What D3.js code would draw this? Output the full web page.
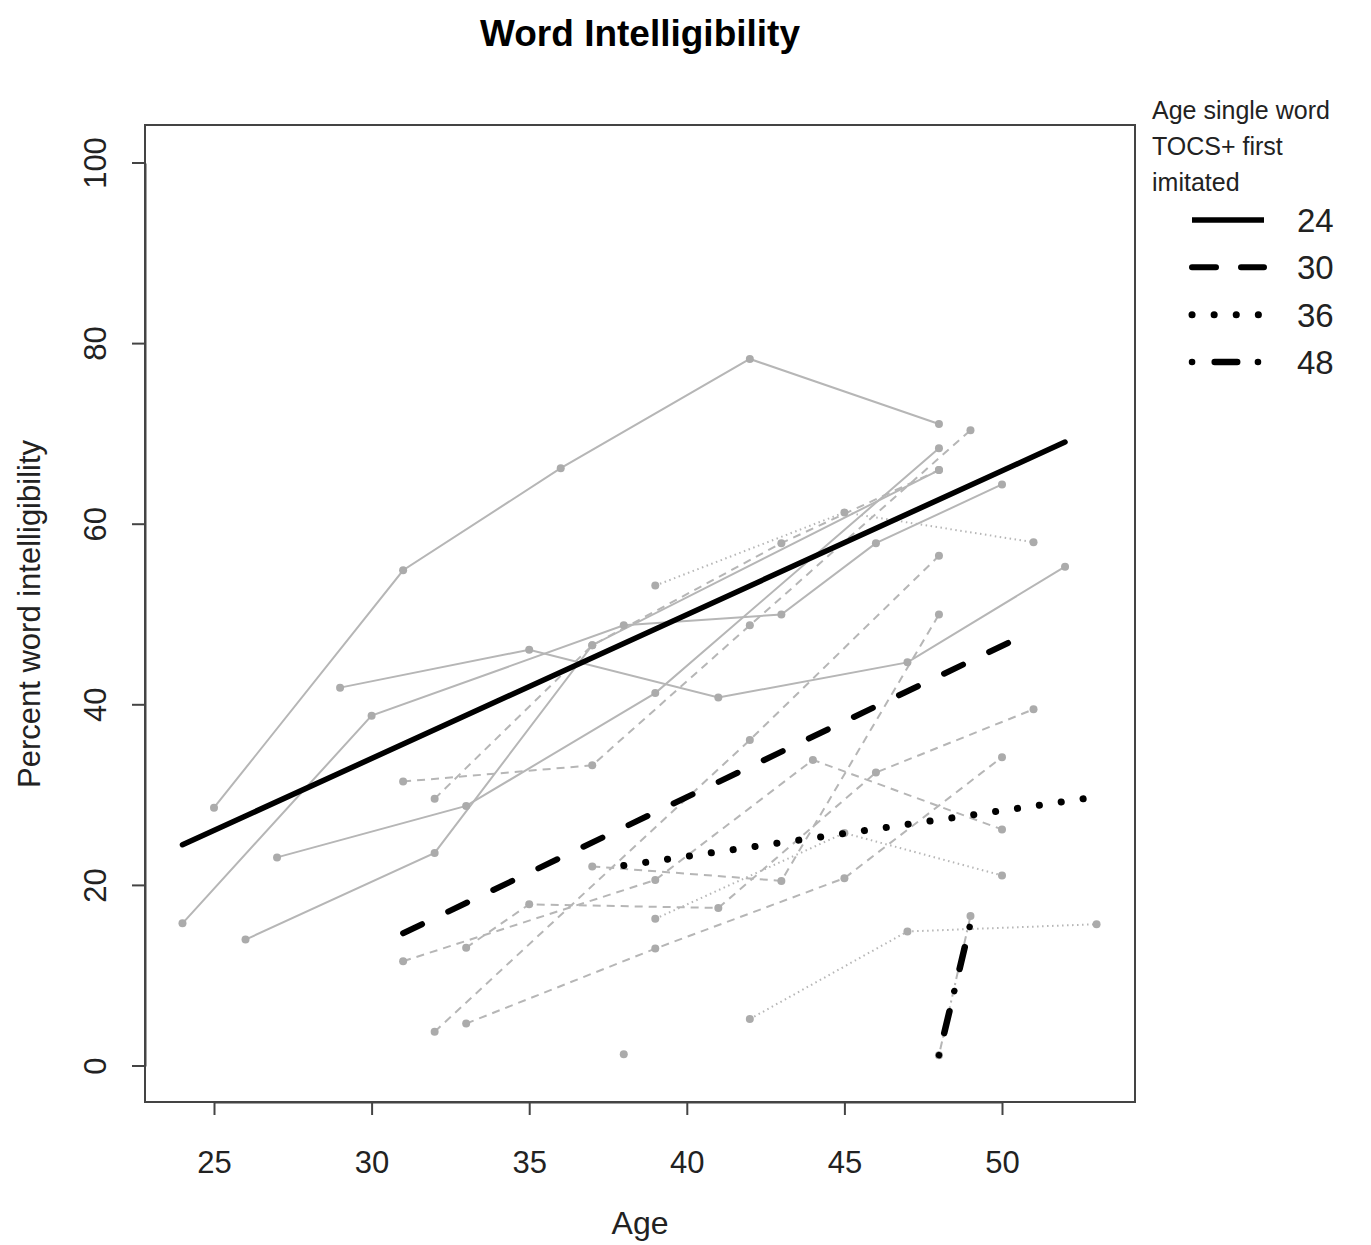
<!DOCTYPE html>
<html>
<head>
<meta charset="utf-8">
<script src="https://cdn.jsdelivr.net/npm/d3@7"></script>
<style>
  body { margin: 0; background: #fff; }
  text { font-family: "Liberation Sans", Arial, sans-serif; }
</style>
</head>
<body>
<div id="chart"></div>
<script>
// individual children, [age, percent]; grouped by age first imitated
const solid24 = [
  [[25, 28.6], [31, 54.9], [36, 66.2], [42, 78.3], [48, 71.1]],
  [[24, 15.8], [30, 38.8], [38, 48.8], [43, 50.0], [46, 57.9], [50, 64.4]],
  [[27, 23.1], [33, 28.8], [39, 41.3], [48, 68.4]],
  [[29, 41.9], [35, 46.1], [41, 40.8], [47, 44.7], [52, 55.3]],
  [[26, 14.0], [32, 23.6], [37, 46.6], [48, 66.0]]
];
const dashed30 = [
  [[31, 31.5], [37, 33.3], [42, 48.8], [49, 70.4]],
  [[32, 29.6], [37, 46.6], [43, 57.9], [48, 66.0]],
  [[32, 3.8], [42, 36.1], [48, 56.5]],
  [[33, 4.7], [39, 13.0], [45, 20.8], [50, 34.2]],
  [[33, 13.1], [35, 17.9], [41, 17.5], [46, 32.5], [51, 39.5]],
  [[31, 11.6], [39, 20.6], [44, 33.9], [50, 26.2]],
  [[37, 22.1], [43, 20.5], [48, 50.0]]
];
const dotted36 = [
  [[39, 53.2], [45, 61.3], [51, 58.0]],
  [[42, 5.2], [47, 14.9], [53, 15.7]],
  [[39, 16.3], [45, 25.8], [50, 21.1]]
];
const dotdash48 = [
  [[48, 1.2], [49, 16.6]]
];
const single = [[38, 1.3]];

// fitted lines per group
const fit24 = [[24, 24.5], [52, 69.1]];
const fit30 = [[31, 14.7], [51, 48.2]];
const fit36 = [[38, 22.2], [52.6, 29.6]];
const fit48 = [[48, 1.2], [49, 15.8]];

const xTicks = [25, 30, 35, 40, 45, 50];
const yTicks = [0, 20, 40, 60, 80, 100];
const legendLabels = ["24", "30", "36", "48"];

const W = 1371, H = 1245;
const box = {left: 145, right: 1135, top: 125, bottom: 1102};

const x = d3.scaleLinear().domain([25, 50]).range([214, 1002]);
const y = d3.scaleLinear().domain([0, 100]).range([1066, 163]);

const svg = d3.select("#chart").append("svg")
  .attr("width", W).attr("height", H);

const line = d3.line().x(d => x(d[0])).y(d => y(d[1]));

const grayStyles = [
  {data: solid24, dash: null},
  {data: dashed30, dash: "8,6"},
  {data: dotted36, dash: "1.5,3.5"},
  {data: dotdash48, dash: "2,4,8,4"}
];

grayStyles.forEach(g => {
  svg.append("g").selectAll("path")
    .data(g.data).enter().append("path")
    .attr("d", line)
    .attr("fill", "none")
    .attr("stroke", "#b6b6b6")
    .attr("stroke-width", 2)
    .attr("stroke-dasharray", g.dash);
});

const allPts = [].concat(...solid24, ...dashed30, ...dotted36, ...dotdash48, single);
svg.append("g").selectAll("circle")
  .data(allPts).enter().append("circle")
  .attr("cx", d => x(d[0])).attr("cy", d => y(d[1]))
  .attr("r", 4).attr("fill", "#ababab");

const fits = [
  {data: fit24, dash: null, w: 5.5},
  {data: fit30, dash: "21,29", w: 6},
  {data: fit36, dash: "0.1,22", w: 7},
  {data: fit48, dash: "0.1,22.6,22.5,20.7", w: 6.5}
];
svg.append("g").selectAll("path")
  .data(fits).enter().append("path")
  .attr("d", d => line(d.data))
  .attr("fill", "none")
  .attr("stroke", "#000")
  .attr("stroke-width", d => d.w)
  .attr("stroke-linecap", "round")
  .attr("stroke-dasharray", d => d.dash);

// plot frame
svg.append("rect")
  .attr("x", box.left).attr("y", box.top)
  .attr("width", box.right - box.left).attr("height", box.bottom - box.top)
  .attr("fill", "none").attr("stroke", "#444").attr("stroke-width", 2);

const xAxis = svg.append("g")
  .attr("transform", `translate(0,${box.bottom})`)
  .call(d3.axisBottom(x).tickValues(xTicks).tickSize(13).tickSizeOuter(0).tickPadding(36));
xAxis.selectAll("text").attr("font-size", 31).attr("fill", "#222")
  .style("font-family", "'Liberation Sans', Arial, sans-serif");

const yAxis = svg.append("g")
  .attr("transform", `translate(${box.left},0)`)
  .call(d3.axisLeft(y).tickValues(yTicks).tickSize(13).tickSizeOuter(0));
yAxis.selectAll("text")
  .attr("font-size", 31).attr("fill", "#222")
  .attr("text-anchor", "middle")
  .attr("x", 0).attr("dy", 0)
  .attr("transform", d => `translate(-47,${y(d)}) rotate(-90)`)
  .attr("y", 0)
  .attr("dominant-baseline", "middle")
  .style("font-family", "'Liberation Sans', Arial, sans-serif");
yAxis.selectAll(".tick").attr("transform", null);
yAxis.selectAll(".tick line").attr("y1", d => y(d)).attr("y2", d => y(d)).attr("x2", -13);
svg.selectAll(".domain, .tick line").attr("stroke", "#444").attr("stroke-width", 2);

svg.append("text")
  .attr("x", 640).attr("y", 46)
  .attr("text-anchor", "middle")
  .attr("font-size", 37).attr("font-weight", "bold")
  .text("Word Intelligibility");

svg.append("text")
  .attr("x", 640).attr("y", 1234)
  .attr("text-anchor", "middle")
  .attr("font-size", 32).attr("fill", "#222")
  .text("Age");

svg.append("text")
  .attr("transform", "translate(40,614) rotate(-90)")
  .attr("text-anchor", "middle")
  .attr("font-size", 31).attr("fill", "#222")
  .text("Percent word intelligibility");

// legend
const legend = svg.append("g");
["Age single word", "TOCS+ first", "imitated"].forEach((t, i) => {
  legend.append("text")
    .attr("x", 1152).attr("y", 119 + i * 36)
    .attr("font-size", 25).attr("fill", "#222")
    .text(t);
});
const legendY = d3.scalePoint().domain(legendLabels).range([220, 362]);
legend.selectAll("path.key")
  .data(fits).enter().append("path")
  .attr("class", "key")
  .attr("d", (d, i) => `M1192,${legendY(legendLabels[i])}H1264`)
  .attr("stroke", "#000").attr("stroke-width", d => d.w)
  .attr("stroke-linecap", d => d.dash ? "round" : "butt")
  .attr("stroke-dasharray", (d, i) => i === 1 ? "24,25" : d.dash);
legend.selectAll("text.lab")
  .data(legendLabels).enter().append("text")
  .attr("class", "lab")
  .attr("x", 1297).attr("y", d => legendY(d) + 12)
  .attr("font-size", 33).attr("fill", "#222")
  .text(d => d);
</script>
</body>
</html>
